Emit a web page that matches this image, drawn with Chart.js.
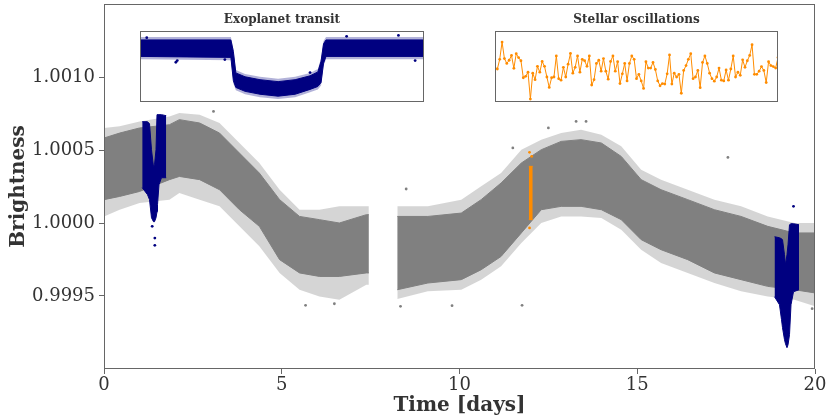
<!DOCTYPE html>
<html>
<head>
<meta charset="utf-8">
<script src="https://cdn.jsdelivr.net/npm/chart.js@4.4.1/dist/chart.umd.min.js"></script>
<style>
  html, body { margin: 0; padding: 0; background: #fff; }
  #wrap { position: relative; width: 830px; height: 418px; }
  canvas { position: absolute; }
  #main { left: 0; top: 0; }
  #transit { left: 140px; top: 9px; }
  #osc { left: 495px; top: 9px; }
</style>
</head>
<body>
<div id="wrap">
  <canvas id="main" width="830" height="418"></canvas>
  <canvas id="transit" width="284" height="93"></canvas>
  <canvas id="osc" width="283" height="93"></canvas>
</div>
<script>
// --- light curve: edges of the point cloud ---
// first stretch, before the data gap
const timeA = [0, 0.44, 1.0, 1.84, 2.12, 2.69, 3.25, 3.81, 4.37, 4.94, 5.50, 6.06, 6.62, 7.38, 7.45];
const outerTopA = [1.000651, 1.000662, 1.000696, 1.000730, 1.000753, 1.000742, 1.000685, 1.000548, 1.000411, 1.000228, 1.000091, 1.000091, 1.000114, 1.000114, 1.000114];
const innerTopA = [1.000582, 1.000616, 1.000651, 1.000673, 1.000708, 1.000685, 1.000616, 1.000479, 1.000342, 1.000160, 1.000045, 1.000023, 1.000000, 1.000057, 1.000057];
const innerBotA = [1.000160, 1.000182, 1.000216, 1.000297, 1.000319, 1.000297, 1.000228, 1.000091, 0.999977, 0.999749, 0.999658, 0.999634, 0.999634, 0.999658, 0.999658];
const outerBotA = [1.000045, 1.000091, 1.000137, 1.000160, 1.000205, 1.000160, 1.000114, 0.999977, 0.999840, 0.999658, 0.999543, 0.999497, 0.999475, 0.999577, 0.999577];

// second stretch, after the gap
const timeB = [8.25, 9.11, 10.05, 10.61, 11.17, 11.74, 12.30, 12.86, 13.42, 13.99, 14.55, 15.11, 15.67, 16.42, 17.17, 17.92, 18.67, 19.42, 20.0];
const outerTopB = [1.000114, 1.000114, 1.000160, 1.000251, 1.000342, 1.000502, 1.000571, 1.000616, 1.000639, 1.000605, 1.000525, 1.000365, 1.000297, 1.000228, 1.000160, 1.000114, 1.000045, 1.000000, 1.000000];
const innerTopB = [1.000045, 1.000045, 1.000068, 1.000160, 1.000274, 1.000411, 1.000502, 1.000559, 1.000571, 1.000548, 1.000456, 1.000297, 1.000228, 1.000160, 1.000091, 1.000045, 0.999977, 0.999932, 0.999932];
const innerBotB = [0.999543, 0.999589, 0.999612, 0.999680, 0.999771, 0.999932, 1.000091, 1.000114, 1.000114, 1.000091, 1.000023, 0.999886, 0.999817, 0.999749, 0.999658, 0.999612, 0.999566, 0.999543, 0.999521];
const outerBotB = [0.999480, 0.999532, 0.999543, 0.999612, 0.999703, 0.999863, 1.000000, 1.000045, 1.000045, 1.000034, 0.999954, 0.999817, 0.999726, 0.999658, 0.999589, 0.999532, 0.999497, 0.999475, 0.999429];

// stray points
const strayTime = [3.08, 5.67, 6.48, 8.34, 8.50, 9.79, 11.50, 11.76, 12.50, 13.28, 13.56, 17.55, 19.92];
const strayFlux = [1.000764, 0.999436, 0.999447, 0.999429, 1.000233, 0.999434, 1.000514, 0.999436, 1.000651, 1.000696, 1.000696, 1.000449, 0.999413];

// transits (navy)
const transit1Time = [1.075, 1.224, 1.280, 1.336, 1.392, 1.421, 1.463, 1.491, 1.505, 1.547, 1.617, 1.750];
const transit1Top = [1.000694, 1.000694, 1.000680, 1.000502, 1.000386, 1.000399, 1.000502, 1.000742, 1.000742, 1.000742, 1.000742, 1.000735];
const transit1Bot = [1.000242, 1.000194, 1.000160, 1.000036, 1.000009, 1.000009, 1.000036, 1.000077, 1.000125, 1.000262, 1.000310, 1.000310];
const transit2Time = [18.861, 19.001, 19.058, 19.086, 19.142, 19.170, 19.212, 19.241, 19.283, 19.325, 19.395, 19.550];
const transit2Top = [0.999906, 0.999899, 0.999892, 0.999886, 0.999783, 0.999714, 0.999783, 0.999851, 0.999988, 0.999995, 0.999995, 0.999988];
const transit2Bot = [0.999495, 0.999440, 0.999338, 0.999283, 0.999201, 0.999173, 0.999146, 0.999166, 0.999235, 0.999440, 0.999529, 0.999543];
const transitStrayTime = [1.356, 1.43, 1.43, 19.395];
const transitStrayFlux = [0.999977, 0.999897, 0.999847, 1.000114];

// oscillation window (orange)
const oscWinTime = [11.95, 12.06];
const oscWinTop = [1.000388, 1.000388];
const oscWinBot = [1.000023, 1.000023];
const oscStrayTime = [11.97, 12.03, 11.97];
const oscStrayFlux = [1.000484, 1.000456, 0.999966];

const xTicks = [0, 5, 10, 15, 20];
const yTicks = [0.9995, 1.0000, 1.0005, 1.0010];

// --- inset 1: zoom on one transit (hours, ppm) ---
const zoomHours = [0, 2.56, 2.63, 2.70, 2.96, 3.38, 3.89, 4.37, 4.79, 5.01, 5.10, 5.17, 5.24, 8.00];
const zoomTop = [117, 117, -3, -223, -263, -293, -313, -293, -253, -213, -103, 77, 117, 117];
const zoomHigh = [87, 87, -33, -253, -293, -323, -343, -323, -283, -243, -133, 47, 87, 87];
const zoomLow = [-83, -93, -333, -403, -443, -473, -493, -473, -423, -393, -353, -153, -83, -83];
const zoomBottom = [-113, -123, -363, -433, -473, -503, -523, -503, -453, -423, -383, -183, -113, -113];
const zoomStrayHours = [0.19, 1.01, 1.05, 2.39, 4.79, 5.82, 7.28, 7.75];
const zoomStrayPpm = [110, -143, -126, -116, -250, 124, 134, -126];

// --- inset 2: oscillations (ppm per sample) ---
const oscPpm = [17, 13, 53, 124, 56, 36, 49, 69, 16, 76, 60, 47, -23, -17, 0, -111, -4, -31, 24, 0,
  44, 24, -20, -63, -23, -20, 67, -27, -33, 20, -20, 33, 77, -4, 20, 67, 0, 53, 47, 24,
  67, -53, -31, 36, 49, 4, 56, 4, -29, 44, 67, 4, 43, -47, -7, 36, -36, 36, 67, 53, -27,
  -9, -36, -67, 43, 17, 17, 40, 11, -36, -56, -47, -49, -7, 71, -49, -4, -20, -9, -87, 7,
  27, 53, 76, -27, -20, 7, -64, 40, 67, 36, -4, -27, -37, -20, 17, -33, -36, 9, -33, 13,
  67, -20, 0, -13, 51, 20, 47, 69, 113, -9, -9, 4, 23, 7, -43, 43, 27, 23, 17, 60];

const FONT = 'DejaVu Serif';
const grey = '#808080', navy = '#000080', orange = '#ff8c00';
const ink = '#333333', spine = '#666666';

function pts(xs, ys) {
  return xs.map((x, i) => ({x: x, y: ys[i]}));
}

// lower edge + upper edge filled between them
function band(xs, lo, hi, color, edge, order) {
  return [
    {data: pts(xs, lo), borderColor: edge, borderWidth: 1, pointRadius: 0, fill: false, order: order},
    {data: pts(xs, hi), borderColor: edge, borderWidth: 1, pointRadius: 0, fill: '-1', backgroundColor: color, order: order}
  ];
}

function dots(xs, ys, color, order) {
  return {data: pts(xs, ys), showLine: false, pointRadius: 1.4, pointBorderWidth: 0,
    pointBackgroundColor: color, order: order};
}

const frame = {
  id: 'frame',
  beforeDatasetsDraw(chart, args, opts) {
    if (!opts.fill) return;
    const a = chart.chartArea, ctx = chart.ctx;
    ctx.save();
    ctx.fillStyle = opts.fill;
    ctx.fillRect(a.left, a.top, a.right - a.left, a.bottom - a.top);
    ctx.restore();
  },
  afterDatasetsDraw(chart, args, opts) {
    const a = chart.chartArea, ctx = chart.ctx;
    const l = Math.round(a.left) + 0.5, t = Math.round(a.top) + 0.5;
    ctx.save();
    ctx.strokeStyle = opts.color;
    ctx.lineWidth = 1;
    ctx.strokeRect(l, t, Math.round(a.right) - 0.5 - l, Math.round(a.bottom) - 0.5 - t);
    ctx.restore();
  }
};

const quiet = {legend: {display: false}, tooltip: {enabled: false}};

function noEdgePad(s) {
  s.paddingTop = 0; s.paddingBottom = 0; s.paddingLeft = 0; s.paddingRight = 0;
}

// main light curve
new Chart(document.getElementById('main'), {
  type: 'line',
  data: {
    datasets: [
      ...band(timeA, outerBotA, outerTopA, 'rgba(128,128,128,0.33)', 'transparent', 6),
      ...band(timeB, outerBotB, outerTopB, 'rgba(128,128,128,0.33)', 'transparent', 6),
      ...band(timeA, innerBotA, innerTopA, grey, grey, 5),
      ...band(timeB, innerBotB, innerTopB, grey, grey, 5),
      ...band(transit1Time, transit1Bot, transit1Top, navy, navy, 4),
      ...band(transit2Time, transit2Bot, transit2Top, navy, navy, 4),
      ...band(oscWinTime, oscWinBot, oscWinTop, orange, orange, 3),
      dots(strayTime, strayFlux, grey, 7),
      dots(transitStrayTime, transitStrayFlux, navy, 2),
      dots(oscStrayTime, oscStrayFlux, orange, 2)
    ]
  },
  options: {
    responsive: false,
    animation: false,
    layout: {autoPadding: false, padding: {top: 4, right: 15, left: 0, bottom: 0}},
    plugins: Object.assign({frame: {color: spine}}, quiet),
    scales: {
      x: {
        type: 'linear', min: 0, max: 20,
        afterFit: s => { s.height = 49; noEdgePad(s); },
        afterBuildTicks: s => { s.ticks = xTicks.map(v => ({value: v})); },
        ticks: {font: {family: FONT, size: 18}, color: ink, padding: 1, maxRotation: 0,
          callback: v => String(v)},
        grid: {drawOnChartArea: false, drawTicks: true, tickLength: 5, tickColor: spine},
        border: {display: false},
        title: {display: true, text: 'Time [days]', color: ink,
          font: {family: FONT, size: 20, weight: 'bold'}, padding: {top: 0, bottom: 0}}
      },
      y: {
        type: 'linear', min: 0.999, max: 1.0015,
        afterFit: s => { s.width = 104; noEdgePad(s); },
        afterBuildTicks: s => { s.ticks = yTicks.map(v => ({value: v})); },
        ticks: {font: {family: FONT, size: 18}, color: ink, padding: 4,
          callback: v => v.toFixed(4)},
        grid: {drawOnChartArea: false, drawTicks: true, tickLength: 5, tickColor: spine},
        border: {display: false},
        title: {display: true, text: 'Brightness', color: ink,
          font: {family: FONT, size: 20, weight: 'bold'}, padding: {top: 7, bottom: 0}}
      }
    }
  },
  plugins: [frame]
});

function insetTitle(text) {
  return {display: true, text: text, color: ink,
    font: {family: FONT, size: 12, weight: 'bold'}, padding: {top: 4, bottom: 4}};
}

// inset: transit close-up
new Chart(document.getElementById('transit'), {
  type: 'line',
  data: {
    datasets: [
      ...band(zoomHours, zoomBottom, zoomTop, 'rgba(0,0,128,0.3)', 'transparent', 3),
      ...band(zoomHours, zoomLow, zoomHigh, navy, navy, 2),
      dots(zoomStrayHours, zoomStrayPpm, navy, 1)
    ]
  },
  options: {
    responsive: false,
    animation: false,
    layout: {autoPadding: false, padding: 0},
    plugins: Object.assign({title: insetTitle('Exoplanet transit'), frame: {color: spine, fill: '#fff'}}, quiet),
    scales: {
      x: {type: 'linear', display: false, min: 0, max: 8},
      y: {type: 'linear', display: false, min: -553, max: 175}
    }
  },
  plugins: [frame]
});

// inset: stellar oscillations
new Chart(document.getElementById('osc'), {
  type: 'line',
  data: {
    datasets: [{
      data: oscPpm.map((v, i) => ({x: i, y: v})),
      borderColor: orange, borderWidth: 1,
      pointRadius: 1.4, pointBorderWidth: 0, pointBackgroundColor: orange,
      fill: false
    }]
  },
  options: {
    responsive: false,
    animation: false,
    layout: {autoPadding: false, padding: 0},
    plugins: Object.assign({title: insetTitle('Stellar oscillations'), frame: {color: spine, fill: '#fff'}}, quiet),
    scales: {
      x: {type: 'linear', display: false, min: 0, max: oscPpm.length - 1},
      y: {type: 'linear', display: false, min: -123, max: 168}
    }
  },
  plugins: [frame]
});
</script>
</body>
</html>
